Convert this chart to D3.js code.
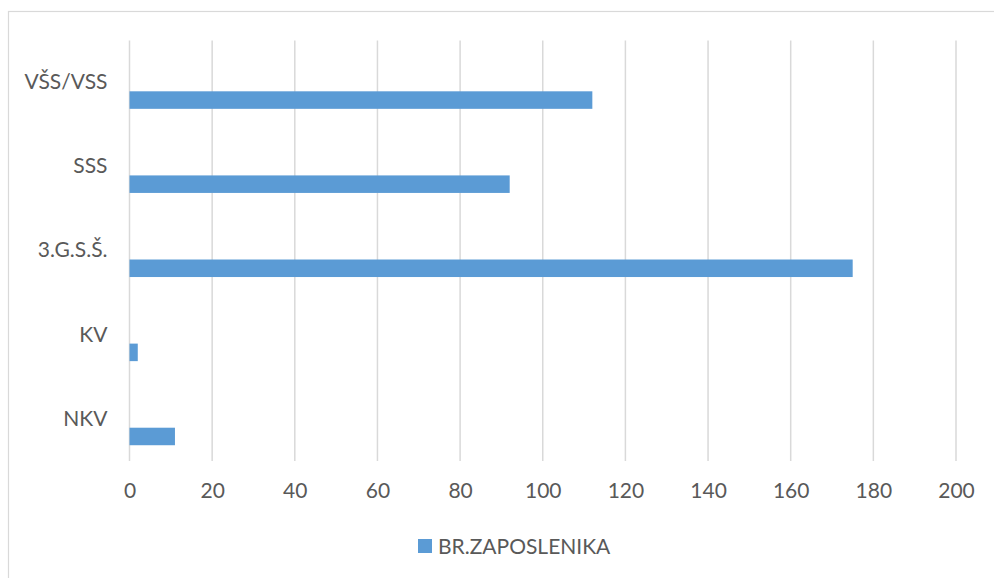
<!DOCTYPE html>
<html>
<head>
<meta charset="utf-8">
<script src="https://cdn.jsdelivr.net/npm/d3@7"></script>
<style>
  body { margin: 0; background: #fff; }
  svg { display: block; font-family: Lato, "Open Sans", sans-serif; }
</style>
</head>
<body>
<div id="chart"></div>
<script>
const WIDTH = 994;
const HEIGHT = 578;

// data (top to bottom)
const categories = ["VŠS/VSS", "SSS", "3.G.S.Š.", "KV", "NKV"];
const values = [112, 92, 175, 2, 11];
const seriesName = "BR.ZAPOSLENIKA";
const xTicks = [0, 20, 40, 60, 80, 100, 120, 140, 160, 180, 200];

const TEXT = "#595959";
const GRID = "#d9d9d9";
const BAR = "#5b9bd5";

const plot = { left: 129.5, right: 956, top: 40.5, bottom: 461 };

let svg = d3.select("#chart")
    .append("svg")
    .attr("width", WIDTH)
    .attr("height", HEIGHT);

// chart frame, runs off the right and bottom edges
svg.append("rect")
    .attr("x", 8.5)
    .attr("y", 11.5)
    .attr("width", WIDTH + 10)
    .attr("height", HEIGHT + 10)
    .attr("fill", "none")
    .attr("stroke", GRID)
    .attr("stroke-width", 1.2);

let x = d3.scaleLinear()
    .domain([0, 200])
    .range([plot.left, plot.right]);

let y = d3.scaleBand()
    .domain(categories)
    .range([plot.top, plot.bottom]);

// excel style cluster of 3 slots, only the last one is filled
let slot = d3.scaleBand()
    .domain([0, 1, 2])
    .range([0, y.bandwidth()])
    .paddingInner(0)
    .paddingOuter(0.9);

// gridlines
svg.append("g")
    .selectAll("line")
    .data(xTicks)
    .enter()
    .append("line")
    .attr("x1", d => x(d))
    .attr("x2", d => x(d))
    .attr("y1", plot.top)
    .attr("y2", plot.bottom)
    .attr("stroke", GRID)
    .attr("stroke-width", 1.5);

// x tick labels
let xAxis = svg.append("g")
    .attr("transform", `translate(0, ${plot.bottom})`)
    .call(d3.axisBottom(x).tickValues(xTicks).tickSize(0).tickPadding(22));
xAxis.select(".domain").remove();
xAxis.selectAll("text")
    .attr("fill", TEXT)
    .style("font-size", "21px")
    .style("font-family", "Lato, sans-serif");

// y category labels
let yAxis = svg.append("g")
    .attr("transform", `translate(${plot.left - 22}, 0)`)
    .call(d3.axisLeft(y).tickSize(0).tickPadding(0));
yAxis.select(".domain").remove();
yAxis.selectAll("text")
    .attr("fill", TEXT)
    .style("font-size", "21px")
    .style("font-family", "Lato, sans-serif");

// bars
svg.append("g")
    .selectAll("rect")
    .data(categories.map((c, i) => ({ cat: c, value: values[i] })))
    .enter()
    .append("rect")
    .attr("x", x(0))
    .attr("y", d => y(d.cat) + slot(2))
    .attr("width", d => x(d.value) - x(0))
    .attr("height", slot.bandwidth())
    .attr("fill", BAR);

// legend
let legend = svg.append("g")
    .attr("transform", "translate(418, 539)");
legend.append("rect")
    .attr("width", 14)
    .attr("height", 14)
    .attr("fill", BAR);
legend.append("text")
    .attr("x", 20)
    .attr("y", 7)
    .attr("dy", "0.36em")
    .attr("fill", TEXT)
    .style("font-size", "21px")
    .text(seriesName);
</script>
</body>
</html>
